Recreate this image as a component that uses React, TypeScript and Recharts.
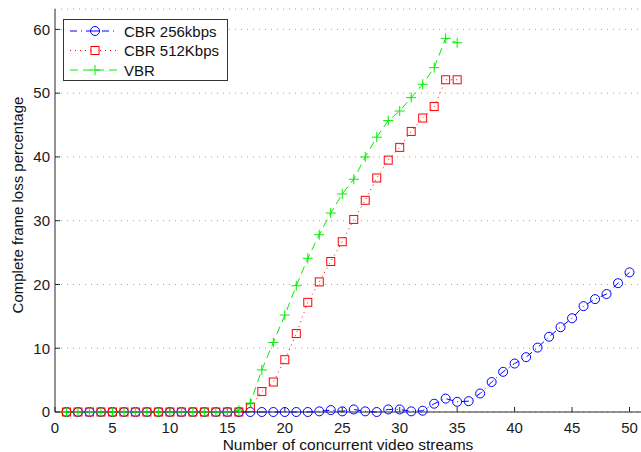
import React from 'react';
import { LineChart, Line, XAxis, YAxis, CartesianGrid, Legend } from 'recharts';

// number of concurrent streams
const streams = Array.from({ length: 50 }, (_, i) => i + 1);

const cbr256 = [
  0, 0, 0, 0, 0, 0, 0, 0, 0, 0,
  0, 0, 0, 0, 0, 0, 0, 0, 0, 0,
  0, 0, 0.1, 0.3, 0.1, 0.4, 0.1, 0, 0.4, 0.4,
  0.1, 0.2, 1.3, 2.1, 1.6, 1.7, 2.9, 4.7, 6.3, 7.6,
  8.6, 10.1, 11.8, 13.3, 14.7, 16.6, 17.7, 18.5, 20.2, 21.9,
];

const cbr512 = [
  0, 0, 0, 0, 0, 0, 0, 0, 0, 0,
  0, 0, 0, 0, 0, 0, 0.7, 3.2, 4.7, 8.2,
  12.3, 17.2, 20.4, 23.6, 26.7, 30.2, 33.2, 36.7, 39.5, 41.5,
  44.0, 46.1, 47.9, 52.1, 52.1,
];

const vbr = [
  0, 0, 0, 0, 0, 0, 0, 0, 0, 0,
  0, 0, 0, 0, 0, 0.3, 1.4, 6.6, 10.9, 15.2,
  19.8, 24.1, 27.8, 31.2, 34.2, 36.5, 40.0, 43.1, 45.7, 47.2,
  49.3, 51.4, 54.0, 58.6, 57.9,
];

const xTicks = [0, 5, 10, 15, 20, 25, 30, 35, 40, 45, 50];
const yTicks = [0, 10, 20, 30, 40, 50, 60];

const data = streams.map((x, i) => ({
  x,
  cbr256: cbr256[i],
  cbr512: cbr512[i],
  vbr: vbr[i],
}));

const BLUE = '#0000ff';
const RED = '#ff0000';
const GREEN = '#00ee00';
const FONT = '"Liberation Sans", Arial, Helvetica, sans-serif';
const AXIS = '#262626';

const CircleDot = (props: any) => {
  const { cx, cy, index } = props;
  if (cx == null || cy == null) return <g key={`c${index}`} />;
  return <circle key={`c${index}`} cx={cx} cy={cy} r={4.5} fill="none" stroke={BLUE} strokeWidth={1} />;
};

const SquareDot = (props: any) => {
  const { cx, cy, index } = props;
  if (cx == null || cy == null) return <g key={`s${index}`} />;
  return <rect key={`s${index}`} x={cx - 4} y={cy - 4} width={8} height={8} fill="none" stroke={RED} strokeWidth={1} />;
};

const PlusDot = (props: any) => {
  const { cx, cy, index } = props;
  if (cx == null || cy == null) return <g key={`p${index}`} />;
  return (
    <path
      key={`p${index}`}
      d={`M${cx - 5},${cy}H${cx + 5}M${cx},${cy - 5}V${cy + 5}`}
      stroke={GREEN}
      strokeWidth={1}
      fill="none"
    />
  );
};

const legendItems = [
  { name: 'CBR 256kbps', color: BLUE, dash: '7 4 1 4', mark: 'circle' },
  { name: 'CBR 512Kbps', color: RED, dash: '1 4', mark: 'square' },
  { name: 'VBR', color: GREEN, dash: '8 5', mark: 'plus' },
];

const LegendBox = () => (
  <svg width={165} height={62} style={{ display: 'block' }}>
    <rect x={0.5} y={0.5} width={164} height={61} fill="#fff" stroke="#333" />
    {legendItems.map((it, i) => {
      const y = 12 + i * 19.5;
      return (
        <g key={it.name}>
          <line x1={7} x2={55} y1={y} y2={y} stroke={it.color} strokeDasharray={it.dash} />
          {it.mark === 'circle' && <circle cx={32} cy={y} r={4.5} fill="#fff" stroke={it.color} />}
          {it.mark === 'circle' && <line x1={27} x2={37} y1={y} y2={y} stroke={it.color} />}
          {it.mark === 'square' && <rect x={28} y={y - 4} width={8} height={8} fill="#fff" stroke={it.color} />}
          {it.mark === 'plus' && (
            <path d={`M27,${y}H37M32,${y - 5}V${y + 5}`} stroke={it.color} fill="none" />
          )}
          <text x={61} y={y + 5.5} fontSize={15} fontFamily={FONT} fill="#111">
            {it.name}
          </text>
        </g>
      );
    })}
  </svg>
);

export default function App() {
  const tick = { fontSize: 15, fill: '#1a1a1a', fontFamily: FONT };
  return (
    <div style={{ position: 'absolute', left: 0, top: 0, width: 641, height: 452, background: '#fff' }}>
      <style>{'body{margin:0}'}</style>
      <LineChart width={641} height={452} data={data} margin={{ top: 9, right: 0, left: 0, bottom: 0 }}>
        <CartesianGrid vertical={false} stroke="#a0a0a0" strokeDasharray="1 5" />
        <XAxis
          dataKey="x"
          type="number"
          domain={[0, 51]}
          ticks={xTicks}
          height={40}
          stroke={AXIS}
          tickSize={-5}
          tickMargin={15}
          tick={tick}
          label={{ value: 'Number of concurrent video streams', position: 'insideBottom', offset: 2, style: { fontSize: 15.5, fill: '#111', fontFamily: FONT } }}
        />
        <XAxis
          xAxisId="top"
          dataKey="x"
          type="number"
          orientation="top"
          mirror
          domain={[0, 51]}
          ticks={xTicks}
          height={0}
          stroke={AXIS}
          tickSize={5}
          tickFormatter={() => ''}
        />
        <YAxis
          type="number"
          domain={[0, 63.2]}
          ticks={yTicks}
          width={55}
          stroke={AXIS}
          tickSize={-5}
          tickMargin={10}
          tick={tick}
          label={{
            content: () => (
              <text
                transform="translate(23,205) rotate(-90)"
                textAnchor="middle"
                fontSize={15}
                fontFamily={FONT}
                fill="#111"
              >
                Complete frame loss percentage
              </text>
            ),
          }}
        />
        <YAxis
          yAxisId="right"
          type="number"
          orientation="right"
          mirror
          domain={[0, 63.2]}
          ticks={yTicks}
          width={0}
          stroke={AXIS}
          tickSize={5}
          tickFormatter={() => ''}
        />
        <Legend
          layout="vertical"
          align="center"
          verticalAlign="middle"
          wrapperStyle={{ left: 63, top: 19, width: 165, height: 62 }}
          content={() => <LegendBox />}
        />
        <Line
          dataKey="cbr256"
          stroke={BLUE}
          strokeWidth={1}
          strokeDasharray="7 4 1 4"
          dot={CircleDot}
          isAnimationActive={false}
        />
        <Line
          dataKey="cbr512"
          stroke={RED}
          strokeWidth={1}
          strokeDasharray="1 4"
          dot={SquareDot}
          isAnimationActive={false}
        />
        <Line
          dataKey="vbr"
          stroke={GREEN}
          strokeWidth={1}
          strokeDasharray="8 5"
          dot={PlusDot}
          isAnimationActive={false}
        />
      </LineChart>
    </div>
  );
}
